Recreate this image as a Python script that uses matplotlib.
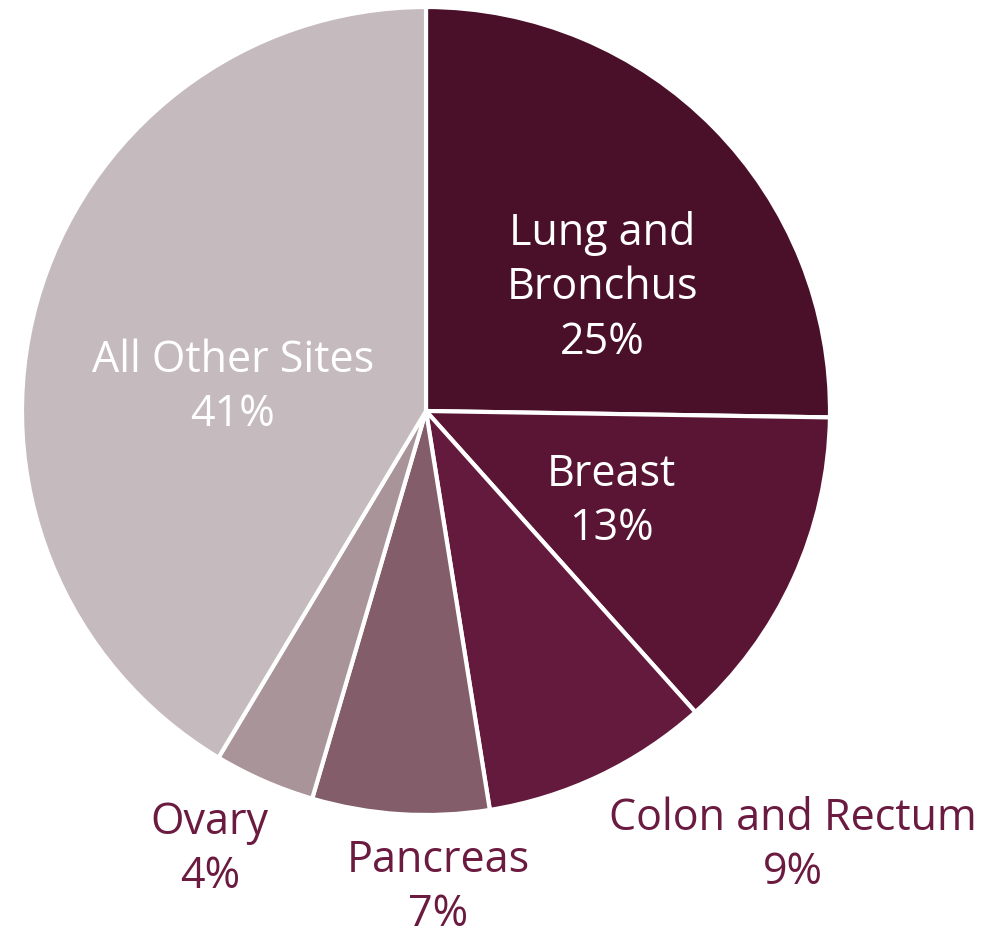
import matplotlib.pyplot as plt

# cancer deaths by site, share of total
sites = ["Lung and\nBronchus", "Breast", "Colon and Rectum", "Pancreas", "Ovary", "All Other Sites"]
shares = [25, 13, 9, 7, 4, 41]
colors = ["#4b1029", "#5a1535", "#631a3d", "#835d6a", "#a89499", "#c5babe"]
text_colors = ["white", "white", "#6b1a40", "#6b1a40", "#6b1a40", "white"]
# label centres in data units (pie radius = 1)
label_pos = [(0.436, 0.305), (0.458, -0.225), (0.908, -1.076),
             (0.03, -1.18), (-0.535, -1.086), (-0.478, 0.057)]

plt.rcParams['font.family'] = ['Open Sans', 'DejaVu Sans']

W, H = 982, 938
cx, cy, r = 426, 411, 404
fig = plt.figure(figsize=(W / 100, H / 100), dpi=100)
ax = fig.add_axes([0, 0, 1, 1])

ax.pie(shares, colors=colors, startangle=90, counterclock=False,
       radius=1, wedgeprops=dict(edgecolor="white", linewidth=3))

for name, val, (x, y), c in zip(sites, shares, label_pos, text_colors):
    ax.text(x, y, f"{name}\n{val}%", ha="center", va="center",
            color=c, fontsize=31, linespacing=1.3)

ax.set_xlim(-cx / r, (W - cx) / r)
ax.set_ylim(-(H - cy) / r, cy / r)
ax.set_aspect("equal")
ax.axis("off")

fig.savefig("out.png", dpi=100)
